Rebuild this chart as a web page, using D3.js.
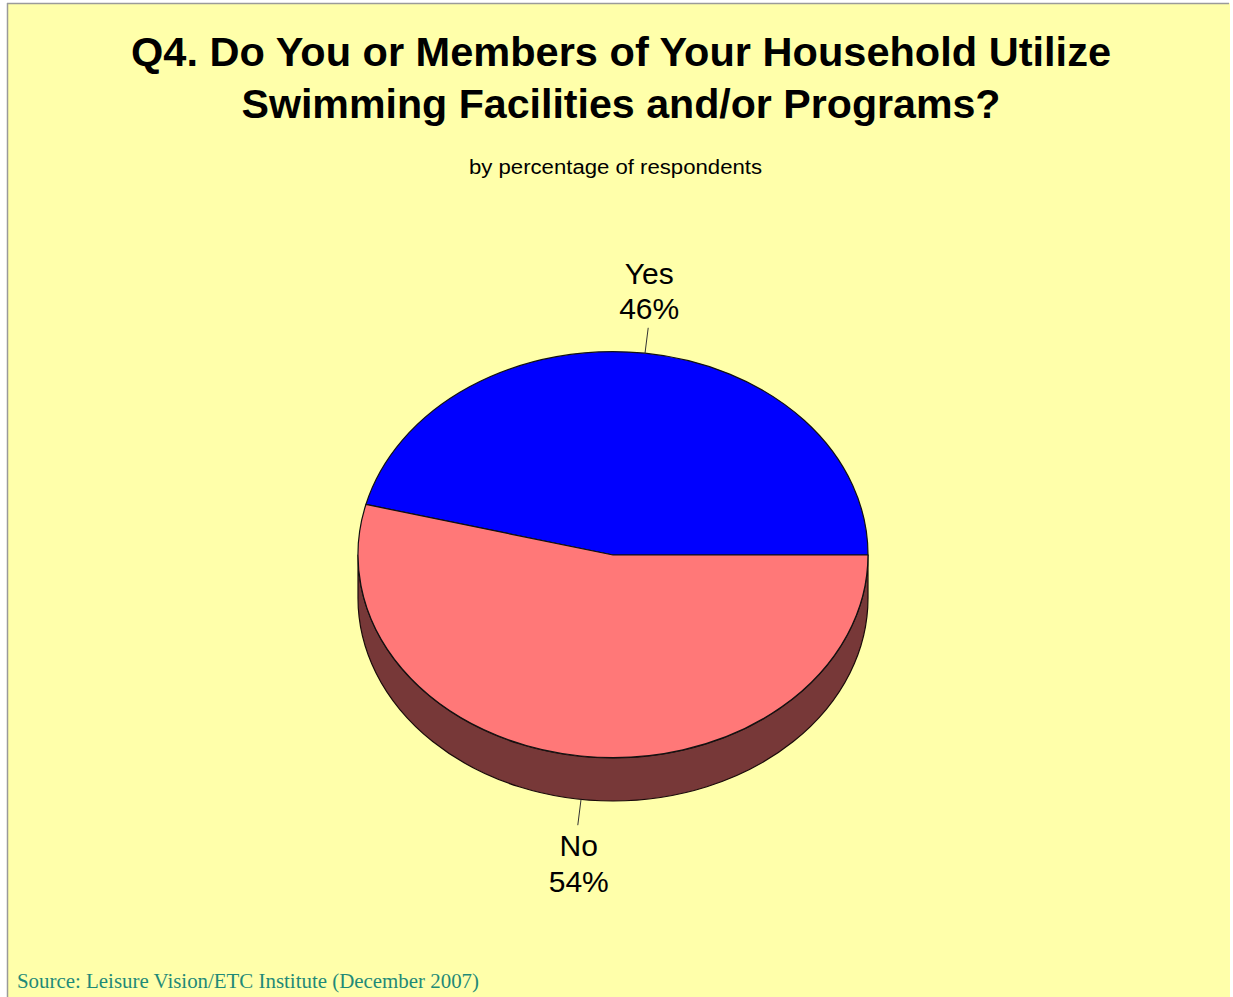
<!DOCTYPE html>
<html>
<head>
<meta charset="utf-8">
<script src="https://cdn.jsdelivr.net/npm/d3@7"></script>
<style>
  html, body { margin: 0; padding: 0; background: #ffffff; }
  svg { display: block; }
</style>
</head>
<body>
<svg id="chart" width="1233" height="997"></svg>
<script>
// Survey answers and their shares (percent of respondents)
const categories = ["Yes", "No"];
const values = [46, 54];
const labels = ["46%", "54%"];
const titleLines = [
  "Q4. Do You or Members of Your Household Utilize",
  "Swimming Facilities and/or Programs?"
];
const subtitle = "by percentage of respondents";
const source = "Source:  Leisure Vision/ETC Institute (December 2007)";

const topColors = { Yes: "#0000ff", No: "#ff7878" };
const sideColors = { Yes: "#00007a", No: "#773838" };

const svg = d3.select("#chart");
const W = 1233, H = 997;

// Page background with the thin frame on top and left
svg.append("rect").attr("x", 7).attr("y", 3).attr("width", W - 10).attr("height", H - 3)
  .attr("fill", "#ffffaa");
svg.append("line").attr("x1", 7).attr("y1", 3.5).attr("x2", W - 4).attr("y2", 3.5)
  .attr("stroke", "#9a9a9a").attr("stroke-width", 1.5);
svg.append("line").attr("x1", 7.5).attr("y1", 3).attr("x2", 7.5).attr("y2", H)
  .attr("stroke", "#9a9a9a").attr("stroke-width", 1.5);

// Title
const titleSpec = [
  { y: 66, width: 980 },
  { y: 118, width: 759 }
];
titleLines.forEach((t, i) => {
  svg.append("text")
    .attr("x", 621).attr("y", titleSpec[i].y)
    .attr("text-anchor", "middle")
    .attr("font-family", "Liberation Sans, Arial, sans-serif")
    .attr("font-weight", "bold")
    .attr("font-size", 41)
    .attr("textLength", titleSpec[i].width)
    .attr("lengthAdjust", "spacingAndGlyphs")
    .attr("fill", "#000")
    .text(t);
});

svg.append("text")
  .attr("x", 615.5).attr("y", 174)
  .attr("text-anchor", "middle")
  .attr("font-family", "Liberation Sans, Arial, sans-serif")
  .attr("font-size", 20)
  .attr("textLength", 293)
  .attr("lengthAdjust", "spacingAndGlyphs")
  .attr("fill", "#000")
  .text(subtitle);

// 3D pie geometry
const cx = 613, cy = 555, rx = 255, ry = 203, depth = 43;

// First slice ends at 3 o'clock; slices run clockwise in d3 angle terms
const total = d3.sum(values);
const start = Math.PI / 2 - (values[0] / total) * 2 * Math.PI;
const pie = d3.pie().sort(null).value(d => d.value)
  .startAngle(start).endAngle(start + 2 * Math.PI);
const data = categories.map((c, i) => ({ name: c, value: values[i], label: labels[i] }));
const arcs = pie(data);

const ex = a => cx + rx * Math.sin(a);
const ey = a => cy - ry * Math.cos(a);

// Side walls: only the part of each slice lying on the front half (pi/2 .. 3pi/2)
const sideG = svg.append("g");
arcs.forEach(d => {
  const a0 = d.startAngle, a1 = d.endAngle;
  const fr0 = Math.PI / 2, fr1 = 3 * Math.PI / 2;
  [0, 2 * Math.PI, -2 * Math.PI].forEach(off => {
    const s = Math.max(a0 + off, fr0), e = Math.min(a1 + off, fr1);
    if (e > s) {
      const large = (e - s) > Math.PI ? 1 : 0;
      const p = `M${ex(s)},${ey(s)} A${rx},${ry} 0 ${large} 1 ${ex(e)},${ey(e)}` +
        ` L${ex(e)},${ey(e) + depth} A${rx},${ry} 0 ${large} 0 ${ex(s)},${ey(s) + depth} Z`;
      sideG.append("path").attr("d", p)
        .attr("fill", sideColors[d.data.name])
        .attr("stroke", "#1a0a0a").attr("stroke-width", 1.2)
        .attr("stroke-linejoin", "round");
    }
  });
});

// Top faces drawn with a unit arc stretched into the ellipse
const unitArc = d3.arc().innerRadius(0).outerRadius(1);
const topG = svg.append("g").attr("transform", `translate(${cx},${cy}) scale(${rx},${ry})`);
topG.selectAll("path").data(arcs).join("path")
  .attr("d", unitArc)
  .attr("fill", d => topColors[d.data.name])
  .attr("stroke", "#111")
  .attr("stroke-width", 1.2)
  .attr("vector-effect", "non-scaling-stroke")
  .attr("stroke-linejoin", "round");

// Leader lines and labels
const labelFont = "Liberation Sans, Arial, sans-serif";
arcs.forEach(d => {
  const m = (d.startAngle + d.endAngle) / 2;
  const front = Math.cos(m) < 0;
  const x0 = ex(m), y0 = ey(m) + (front ? depth : 0);
  const k = 26;
  const x1 = cx + (rx + k) * Math.sin(m), y1 = cy - (ry + k) * Math.cos(m) + (front ? depth : 0);
  svg.append("line").attr("x1", x0).attr("y1", y0).attr("x2", x1).attr("y2", y1)
    .attr("stroke", "#333").attr("stroke-width", 1);
  const lx = x1 + 1;
  const base = front ? y1 + 31 : y1 - 44;
  const g = svg.append("g").attr("font-family", labelFont).attr("font-size", 30)
    .attr("text-anchor", "middle").attr("fill", "#000");
  g.append("text").attr("x", lx).attr("y", base).text(d.data.name);
  g.append("text").attr("x", lx).attr("y", base + 35.5).text(d.data.label);
});

// Source note
svg.append("text")
  .attr("x", 17).attr("y", 988)
  .attr("font-family", "Liberation Serif, Times New Roman, serif")
  .attr("font-size", 20)
  .attr("textLength", 462)
  .attr("lengthAdjust", "spacingAndGlyphs")
  .attr("fill", "#1f8a78")
  .text(source);
</script>
</body>
</html>
